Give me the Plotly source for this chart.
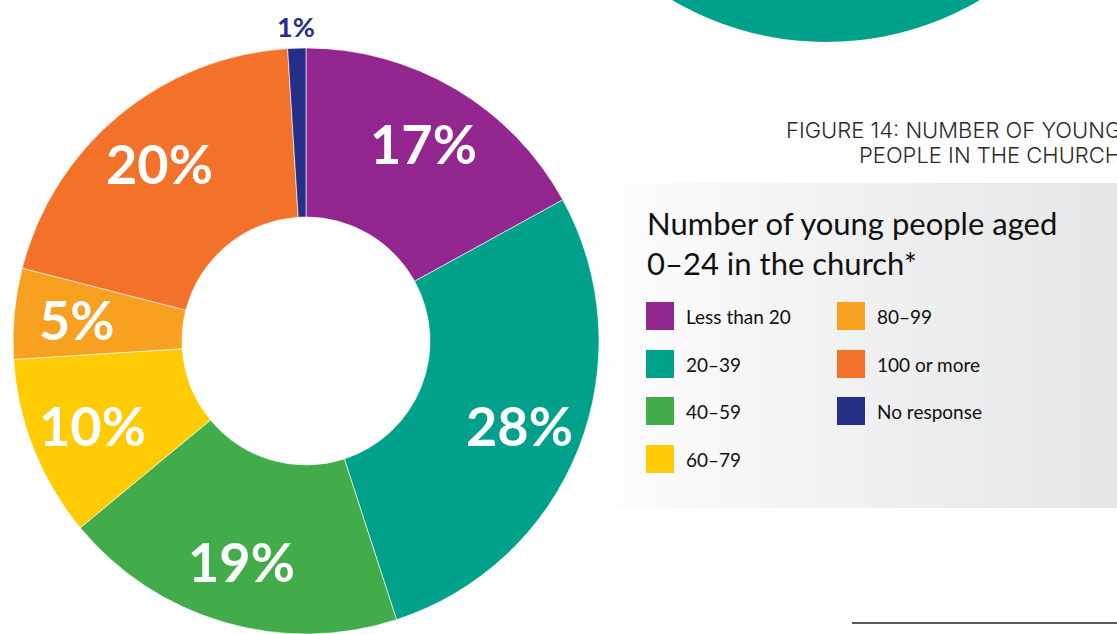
import math
import plotly.graph_objects as go

# Share of churches by number of young people aged 0-24
categories = ["Less than 20", "20–39", "40–59", "60–79", "80–99", "100 or more", "No response"]
shares = [17, 28, 19, 10, 5, 20, 1]
colors = ["#93278F", "#00A18A", "#43AC4A", "#FFCB05", "#F8A01F", "#F37128", "#262F87"]
caption_lines = ["FIGURE 14: NUMBER OF YOUNG", "PEOPLE IN THE CHURCH"]

W, H = 1117, 634

# donut geometry in pixels
cx, cy = 306, 341
R = 293
hole_r = 124


def px(x):
    return x / W


def py(y):
    return 1 - y / H


fig = go.Figure()

fig.add_trace(go.Pie(
    labels=categories,
    values=shares,
    sort=False,
    direction="clockwise",
    rotation=0,
    hole=hole_r / R,
    marker=dict(colors=colors, line=dict(color="white", width=0.6)),
    textinfo="none",
    hoverinfo="label+percent",
    showlegend=False,
    domain=dict(x=[px(cx - R), px(cx + R)], y=[py(cy + R), py(cy - R)]),
))

shapes = []
annotations = []

# soft grey panel behind the key, fading in from the left
x_start, x_end = 570, W
n_strips = 70
c0 = (255, 255, 255)
c1 = (229, 230, 231)
for i in range(n_strips):
    t = (i / (n_strips - 1)) ** 0.9
    col = tuple(round(c0[k] + (c1[k] - c0[k]) * t) for k in range(3))
    xa = x_start + (x_end - x_start) * i / n_strips
    xb = x_start + (x_end - x_start) * (i + 1) / n_strips + 0.6
    shapes.append(dict(
        type="rect", xref="paper", yref="paper",
        x0=px(xa), x1=px(xb), y0=py(508), y1=py(183),
        fillcolor="rgb(%d,%d,%d)" % col, line=dict(width=0), layer="below",
    ))

# neighbouring figure peeking in at the top
shapes.append(dict(
    type="circle", xref="paper", yref="paper",
    x0=px(826 - 303), x1=px(826 + 303), y0=py(42), y1=py(-564),
    fillcolor="#00A18A", line=dict(width=0), layer="below",
))

# rule at the bottom right
shapes.append(dict(
    type="line", xref="paper", yref="paper",
    x0=px(852), x1=px(W), y0=py(623), y1=py(623),
    line=dict(color="#222222", width=1.5),
))

# percentage labels at each slice's mid angle
cum = 0
total = sum(shares)
for name, v, col in zip(categories, shares, colors):
    mid = (cum + v / 2) / total * 2 * math.pi
    cum += v
    if v >= 3:
        r = 230
        fsize, fcol = 54, "white"
    else:
        r = 315
        fsize, fcol = 27, col
    lx = cx + r * math.sin(mid)
    ly = cy - r * math.cos(mid)
    annotations.append(dict(
        x=px(lx), y=py(ly), xref="paper", yref="paper",
        text=f"{v}%", showarrow=False, xanchor="center", yanchor="middle",
        font=dict(family="Lato", size=fsize, color=fcol, weight=700),
    ))

# figure caption, running off the right edge
for k, line in enumerate(caption_lines):
    annotations.append(dict(
        x=px(1123), y=py(130 + 25 * k), xref="paper", yref="paper",
        text=line, showarrow=False, xanchor="right", yanchor="middle",
        font=dict(family="Inter", size=22, color="#2a2a2a", weight=300),
    ))

# key title
annotations.append(dict(
    x=px(645), y=py(202), xref="paper", yref="paper",
    text="Number of young people aged<br>0–24 in the church*",
    showarrow=False, xanchor="left", yanchor="top", align="left",
    font=dict(family="Lato", size=31, color="#111111"),
))

# key entries: two columns, filled top to bottom
col_x = [646, 837]
row_y = [316, 364, 411, 459]
per_col = 4
for i, (name, col) in enumerate(zip(categories, colors)):
    c = i // per_col
    r = i % per_col
    x0 = col_x[c]
    yc = row_y[r]
    shapes.append(dict(
        type="rect", xref="paper", yref="paper",
        x0=px(x0), x1=px(x0 + 28), y0=py(yc + 14), y1=py(yc - 14),
        fillcolor=col, line=dict(width=0),
    ))
    annotations.append(dict(
        x=px(x0 + 38), y=py(yc), xref="paper", yref="paper",
        text=name, showarrow=False, xanchor="left", yanchor="middle",
        font=dict(family="Lato", size=19, color="#111111"),
    ))

fig.update_layout(
    width=W, height=H,
    margin=dict(l=0, r=0, t=0, b=0),
    paper_bgcolor="white", plot_bgcolor="white",
    shapes=shapes, annotations=annotations,
)

fig.write_html("out.html")
